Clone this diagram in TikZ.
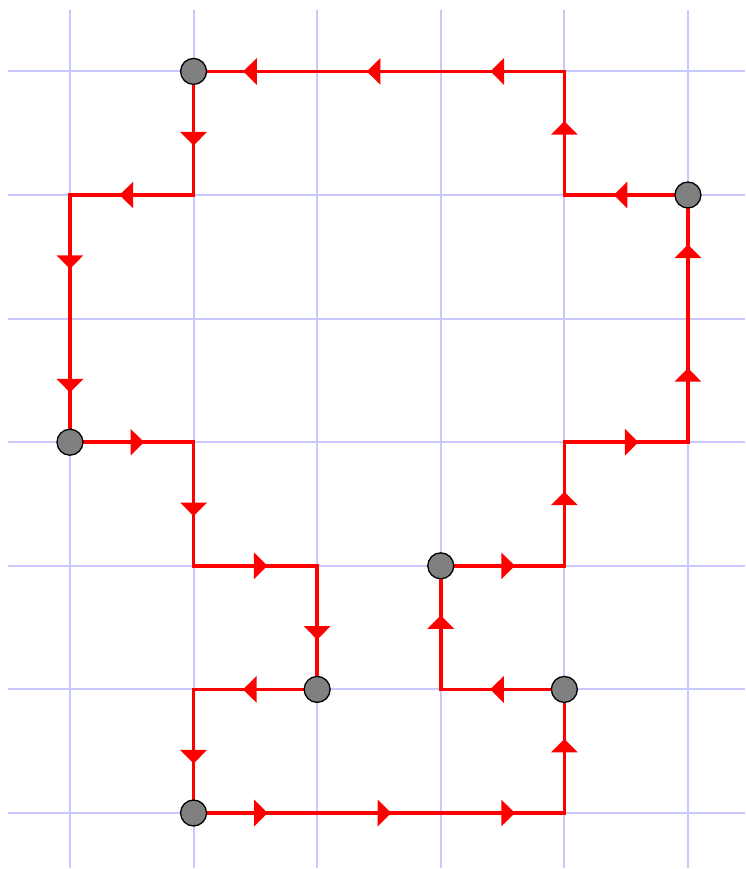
\documentclass[tikz,border=0pt]{standalone}
\usepackage{tikz}
\usetikzlibrary{arrows.meta,decorations.markings,backgrounds}
\definecolor{GridBlue}{HTML}{C8C8FF}
\definecolor{LoopRed}{HTML}{FF0000}
\definecolor{DotGrey}{HTML}{808080}
\tikzset{
  gridline/.style={draw=GridBlue, line width=0.45pt},
  dot/.style={circle, draw=black, line width=0.3pt, fill=DotGrey, minimum size=2.1mm, inner sep=0pt},
  leg/.style={draw=LoopRed, line width=0.85pt, line join=miter,
    decoration={markings, mark=between positions 6mm and -1mm step 10mm with
      {\arrow{Triangle[length=1.1mm,width=2.1mm]}}},
    postaction={decorate}},
}
\begin{document}
\begin{tikzpicture}[x=1cm,y=1cm]
  \useasboundingbox (-0.566,-0.453) rectangle (5.469,6.578);
  % points on the loop
  \node[dot] (p1) at (1,0) {};
  \node[dot] (p2) at (4,1) {};
  \node[dot] (p3) at (3,2) {};
  \node[dot] (p4) at (5,5) {};
  \node[dot] (p5) at (1,6) {};
  \node[dot] (p6) at (0,3) {};
  \node[dot] (p7) at (2,1) {};
  \begin{scope}[on background layer]
    % grid
    \foreach \x in {0,...,5}
      \draw[gridline] (\x,-0.445) -- (\x,6.497);
    \foreach \y in {0,...,6}
      \draw[gridline] (-0.502,\y) -- (5.461,\y);
    % corners
    \coordinate (c1) at (4,3);
    \coordinate (c2) at (4,5);
    \coordinate (c3) at (1,5);
    \coordinate (c4) at (1,3);
    \coordinate (c5) at (2,2);
    % the loop, leg by leg
    \draw[leg] (p1.center) -| (p2.center);
    \draw[leg] (p2.center) -| (p3.center);
    \draw[leg] (p3.center) -| (c1) -| (p4.center);
    \draw[leg] (p4.center) -| (c2) |- (p5.center);
    \draw[leg] (p5.center) |- (c3) -| (p6.center);
    \draw[leg] (p6.center) -| (c4) |- (c5) -- (p7.center);
    \draw[leg] (p7.center) -| (p1.center);
  \end{scope}
\end{tikzpicture}
\end{document}
